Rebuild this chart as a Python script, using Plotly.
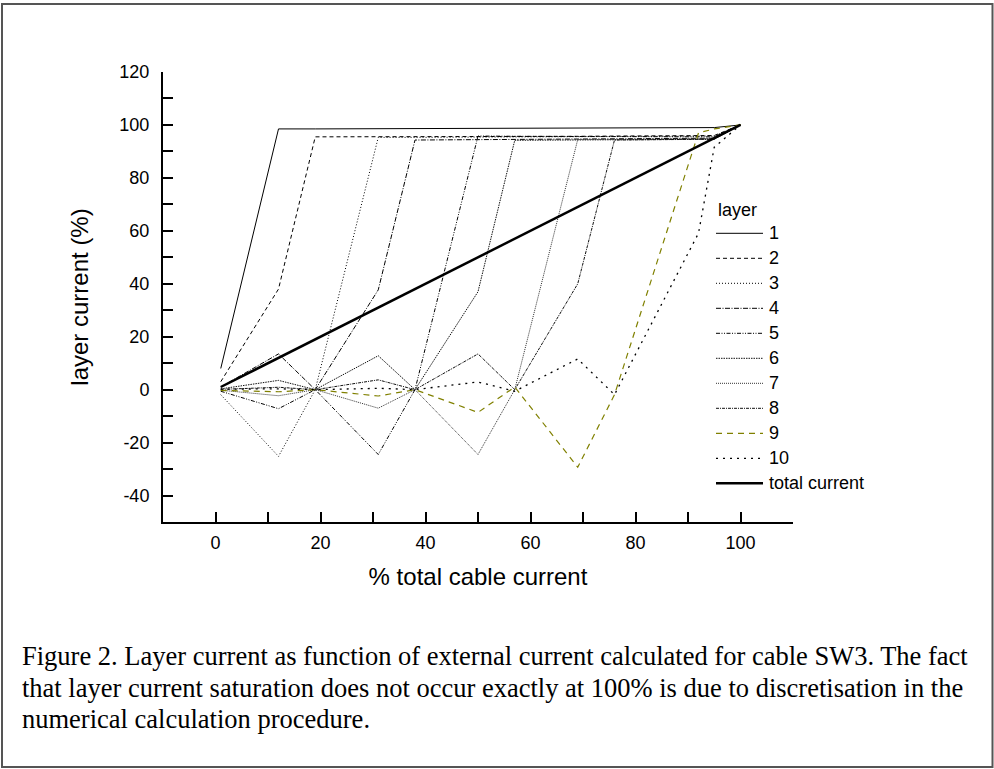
import plotly.graph_objects as go

# Percent of total cable current at which the layer currents were evaluated
pct_total = [1, 12, 19, 31, 38, 50, 57, 69, 76, 92, 95, 100]

# Layer currents (% of each layer's own saturation current)
layer_1 = [8, 98.5, 98.5, 98.6, 98.6, 98.7, 98.7, 98.8, 98.8, 98.9, 99.0, 100]
layer_2 = [3, 38, 95.5, 95.5, 95.6, 95.6, 95.7, 95.7, 95.8, 95.8, 96.0, 100]
layer_3 = [-1.9, -25.2, 0, 95.3, 95.3, 95.4, 95.4, 95.5, 95.5, 95.6, 95.8, 100]
layer_4 = [1.0, 13.5, 0, 37.7, 94.3, 94.4, 94.5, 94.5, 94.6, 94.7, 95.0, 100]
layer_5 = [-0.6, -7.2, 0, -24.5, 0, 95.8, 95.7, 95.6, 95.6, 95.6, 95.5, 100]
layer_6 = [0.3, 3.5, 0, 12.8, 0, 37.0, 94.2, 94.3, 94.3, 94.4, 94.6, 100]
layer_7 = [-0.2, -2.3, 0, -7.0, 0, -24.5, 0, 94.5, 94.5, 94.6, 94.8, 100]
layer_8 = [0.1, 0.9, 0, 3.7, 0, 13.5, 0, 40.0, 94.3, 94.4, 94.6, 100]
layer_9 = [-0.3, -0.8, 0, -2.4, 0, -8.6, 1.0, -29.3, -1.9, 97.0, 98.5, 100]
layer_10 = [0.2, 0.3, 0, 0.5, 0, 2.9, -0.6, 11.6, -1.9, 59.1, 91.6, 100]
total_current = [1, 12, 19, 31, 38, 50, 57, 69, 76, 92, 95, 100]

series_names = ["1", "2", "3", "4", "5", "6", "7", "8", "9", "10", "total current"]
series_values = [layer_1, layer_2, layer_3, layer_4, layer_5, layer_6,
                 layer_7, layer_8, layer_9, layer_10, total_current]

x_ticks = [0, 20, 40, 60, 80, 100]
y_ticks = [-40, -20, 0, 20, 40, 60, 80, 100, 120]

styles = [
    dict(color="#000000", width=1.0, dash="solid"),
    dict(color="#000000", width=1.0, dash="4px,3px"),
    dict(color="#000000", width=1.0, dash="1px,2px"),
    dict(color="#000000", width=1.0, dash="5px,1.5px,1px,1.5px"),
    dict(color="#000000", width=1.0, dash="4px,1.5px,1px,1.5px,1px,1.5px"),
    dict(color="#111111", width=1.0, dash="1.5px,1px"),
    dict(color="#333333", width=1.0, dash="1px,1px"),
    dict(color="#111111", width=1.0, dash="3px,1px,1px,1px"),
    dict(color="#808000", width=1.2, dash="6px,5px"),
    dict(color="#000000", width=1.3, dash="2px,5px"),
    dict(color="#000000", width=2.5, dash="solid"),
]

W, H = 994, 769
ML, MR, MT, MB = 163, 201, 72, 247
PW, PH = W - ML - MR, H - MT - MB


def px2x(px):
    return (px - ML) / PW


def py2y(py):
    return (H - MB - py) / PH


fig = go.Figure()
for name, vals, st in zip(series_names, series_values, styles):
    fig.add_trace(go.Scatter(x=pct_total, y=vals, mode="lines", name=name,
                             line=st, showlegend=False))

sans = "Arial, 'Liberation Sans', sans-serif"
serif = "'Times New Roman', 'Liberation Serif', serif"

axis_common = dict(
    showgrid=False, zeroline=False, showline=True, linecolor="black",
    linewidth=2, ticks="inside", ticklen=10, tickwidth=2, tickcolor="black",
    tickfont=dict(family=sans, size=18, color="black"), mirror=False,
)

fig.update_xaxes(
    range=[-10, 110], tickvals=x_ticks, ticktext=[str(v) for v in x_ticks],
    minor=dict(dtick=10, ticks="inside", ticklen=10, tickwidth=2, tickcolor="black"),
    title=dict(text="% total cable current", font=dict(family=sans, size=24, color="black"),
               standoff=17),
    ticklabelstandoff=3,
    **axis_common,
)
fig.update_yaxes(
    range=[-50, 120], tickvals=y_ticks, ticktext=[str(v) for v in y_ticks],
    minor=dict(dtick=10, ticks="inside", ticklen=10, tickwidth=2, tickcolor="black"),
    title=dict(text="layer current (%)", font=dict(family=sans, size=24, color="black"),
               standoff=24),
    ticklabelstandoff=8,
    **axis_common,
)

shapes = []
annotations = []

# Legend drawn beside the curves
leg_x0, leg_x1, leg_text_x = 716, 763, 767
leg_first_y, leg_step = 233.3, 25.0
annotations.append(dict(text="layer", xref="paper", yref="paper",
                        x=px2x(leg_x0), y=py2y(210), xanchor="left", yanchor="middle",
                        showarrow=False, font=dict(family=sans, size=18, color="black")))
for i, (name, st) in enumerate(zip(series_names, styles)):
    yy = leg_first_y + i * leg_step
    shapes.append(dict(type="line", xref="paper", yref="paper",
                       x0=px2x(leg_x0), x1=px2x(leg_x1), y0=py2y(yy), y1=py2y(yy),
                       line=st))
    annotations.append(dict(text=name, xref="paper", yref="paper",
                            x=px2x(leg_text_x), y=py2y(yy), xanchor="left", yanchor="middle",
                            showarrow=False, font=dict(family=sans, size=18, color="black")))

# Figure caption, one annotation per line
caption_lines = [
    "Figure 2. Layer current as function of external current calculated for cable SW3. The fact",
    "that layer current saturation does not occur exactly at 100% is due to discretisation in the",
    "numerical calculation procedure.",
]
for i, line in enumerate(caption_lines):
    annotations.append(dict(text=line, xref="paper", yref="paper", x=px2x(20),
                            y=py2y(656 + i * 31.7), xanchor="left", yanchor="middle",
                            align="left", showarrow=False,
                            font=dict(family=serif, size=26.5, color="black")))

# Outer frame
shapes.append(dict(type="rect", xref="paper", yref="paper",
                   x0=px2x(2), x1=px2x(992.5), y0=py2y(767), y1=py2y(4),
                   line=dict(color="#555555", width=2), fillcolor="rgba(0,0,0,0)"))

fig.update_layout(
    width=W, height=H, autosize=False,
    margin=dict(l=ML, r=MR, t=MT, b=MB),
    paper_bgcolor="white", plot_bgcolor="white",
    showlegend=False, shapes=shapes, annotations=annotations,
)

fig.write_html("out.html")
